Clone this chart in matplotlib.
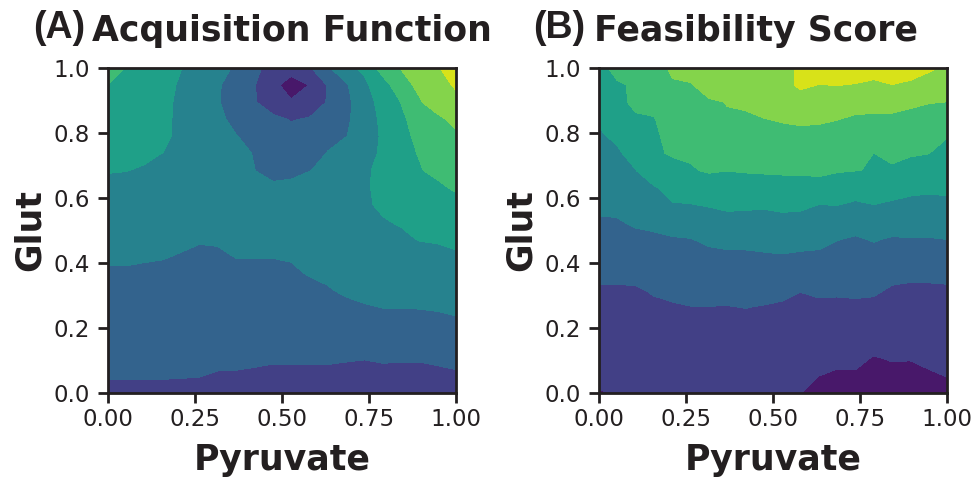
import numpy as np
import matplotlib
matplotlib.use("Agg")
import matplotlib.pyplot as plt

# grid (20 x 20) on [0,1] x [0,1]
pyruvate = np.linspace(0, 1, 20)
glut = np.linspace(0, 1, 20)

# Acquisition function values, one list per Pyruvate column, rows from Glut=0 upward
acq_cols = [
    [1.88, 2.03, 2.18, 2.33, 2.48, 2.63, 2.78, 2.93, 3.09, 3.28, 3.47, 3.65, 3.84, 4.03, 4.22, 4.41, 4.61, 4.81, 4.99, 5.20],
    [1.88, 2.03, 2.18, 2.33, 2.48, 2.63, 2.78, 2.93, 3.09, 3.27, 3.46, 3.64, 3.82, 4.01, 4.17, 4.33, 4.49, 4.65, 4.81, 4.98],
    [1.88, 2.03, 2.18, 2.32, 2.47, 2.61, 2.76, 2.90, 3.06, 3.24, 3.42, 3.59, 3.77, 3.95, 4.09, 4.21, 4.33, 4.45, 4.58, 4.70],
    [1.88, 2.03, 2.17, 2.31, 2.46, 2.60, 2.74, 2.89, 3.03, 3.19, 3.35, 3.51, 3.67, 3.83, 3.99, 4.22, 4.23, 4.24, 4.34, 4.40],
    [1.88, 2.02, 2.16, 2.29, 2.43, 2.56, 2.70, 2.84, 2.97, 3.10, 3.22, 3.34, 3.45, 3.55, 3.64, 3.72, 3.76, 3.80, 3.86, 4.02],
    [1.87, 2.01, 2.13, 2.26, 2.39, 2.52, 2.65, 2.78, 2.91, 3.04, 3.14, 3.24, 3.32, 3.40, 3.46, 3.52, 3.56, 3.60, 3.66, 3.80],
    [1.83, 1.96, 2.10, 2.24, 2.37, 2.51, 2.65, 2.78, 2.92, 3.06, 3.14, 3.20, 3.24, 3.24, 3.20, 3.16, 3.12, 3.06, 3.08, 3.20],
    [1.79, 1.95, 2.10, 2.25, 2.41, 2.56, 2.71, 2.86, 3.02, 3.10, 3.14, 3.16, 3.14, 3.12, 3.11, 3.02, 2.85, 2.60, 2.64, 2.92],
    [1.77, 1.92, 2.08, 2.23, 2.39, 2.55, 2.70, 2.86, 3.02, 3.08, 3.10, 3.08, 3.05, 3.005, 2.98, 2.82, 2.40, 2.075, 2.04, 2.245],
    [1.73, 1.89, 2.05, 2.21, 2.38, 2.54, 2.70, 2.86, 3.02, 3.08, 3.10, 3.10, 3.07, 2.88, 2.70, 2.45, 2.21, 1.50, 1.18, 1.60],
    [1.72, 1.89, 2.06, 2.23, 2.40, 2.57, 2.74, 2.91, 3.05, 3.10, 3.12, 3.10, 3.05, 2.95, 2.60, 2.28, 1.95, 1.07, 0.70, 1.28],
    [1.68, 1.87, 2.07, 2.26, 2.46, 2.65, 2.84, 3.04, 3.12, 3.20, 3.25, 3.27, 3.24, 2.99, 2.72, 2.40, 2.08, 1.40, 1.02, 1.90],
    [1.64, 1.86, 2.07, 2.29, 2.51, 2.73, 2.95, 3.12, 3.20, 3.28, 3.32, 3.30, 3.22, 3.10, 3.035, 2.80, 2.40, 2.07, 2.07, 2.85],
    [1.53, 1.79, 2.05, 2.32, 2.58, 2.84, 3.10, 3.25, 3.38, 3.48, 3.55, 3.58, 3.55, 3.45, 3.30, 2.99, 2.83, 2.71, 2.88, 3.79],
    [1.40, 1.71, 2.02, 2.32, 2.63, 2.94, 3.20, 3.40, 3.55, 3.70, 3.82, 3.93, 3.92, 3.88, 3.50, 3.19, 3.50, 3.70, 3.82, 4.165],
    [1.46, 1.77, 2.08, 2.39, 2.71, 3.01, 3.19, 3.38, 3.56, 3.75, 3.96, 4.08, 4.16, 4.20, 4.22, 4.20, 4.20, 4.25, 4.55, 5.45],
    [1.44, 1.75, 2.07, 2.38, 2.70, 3.02, 3.20, 3.42, 3.63, 3.89, 4.05, 4.20, 4.35, 4.50, 4.70, 4.75, 4.85, 5.02, 5.66, 6.04],
    [1.42, 1.74, 2.06, 2.39, 2.71, 3.03, 3.28, 3.53, 3.78, 4.03, 4.25, 4.50, 4.75, 4.925, 5.05, 5.20, 5.35, 5.90, 6.20, 6.50],
    [1.48, 1.81, 2.13, 2.45, 2.77, 3.07, 3.32, 3.57, 3.82, 4.07, 4.30, 4.55, 4.78, 5.27, 5.45, 5.60, 5.775, 6.525, 6.68, 6.90],
    [1.56, 1.88, 2.21, 2.53, 2.86, 3.14, 3.39, 3.64, 3.90, 4.17, 4.38, 4.60, 5.16, 5.40, 5.65, 5.80, 6.30, 6.79, 7.10, 7.67],
]

# Feasibility score values, one list per Pyruvate column, rows from Glut=0 upward
feas_cols = [
    [0.97, 1.13, 1.29, 1.45, 1.61, 1.77, 1.93, 2.15, 2.41, 2.67, 2.92, 3.14, 3.33, 3.52, 3.71, 3.90, 4.10, 4.30, 4.50, 4.70],
    [1.02, 1.17, 1.32, 1.47, 1.63, 1.78, 1.93, 2.14, 2.41, 2.68, 2.94, 3.18, 3.42, 3.66, 3.89, 4.13, 4.40, 4.75, 4.90, 5.29],
    [1.05, 1.20, 1.34, 1.49, 1.64, 1.78, 1.93, 2.17, 2.48, 2.80, 3.11, 3.40, 3.69, 3.98, 4.28, 4.58, 4.87, 5.20, 5.10, 5.40],
    [1.10, 1.26, 1.41, 1.57, 1.72, 1.88, 2.06, 2.33, 2.60, 2.86, 3.19, 3.56, 3.93, 4.50, 4.94, 4.95, 4.96, 5.20, 5.40, 5.60],
    [1.12, 1.28, 1.44, 1.61, 1.77, 1.93, 2.15, 2.41, 2.67, 2.93, 3.39, 3.96, 4.22, 4.85, 5.04, 5.09, 5.40, 5.65, 5.90, 6.16],
    [1.15, 1.32, 1.48, 1.65, 1.81, 1.98, 2.22, 2.47, 2.72, 2.98, 3.47, 3.97, 4.43, 4.89, 5.15, 5.36, 5.56, 5.76, 5.97, 6.17],
    [1.20, 1.36, 1.51, 1.67, 1.82, 1.98, 2.25, 2.53, 2.81, 3.15, 3.60, 4.06, 4.27, 5.13, 5.35, 5.55, 5.75, 5.95, 6.17, 6.40],
    [1.25, 1.40, 1.54, 1.69, 1.83, 1.97, 2.25, 2.55, 2.85, 3.25, 3.72, 4.17, 4.59, 5.01, 5.27, 5.54, 5.97, 6.01, 6.30, 6.60],
    [1.30, 1.44, 1.58, 1.72, 1.86, 2.01, 2.29, 2.58, 2.86, 3.24, 3.69, 4.15, 4.61, 5.06, 5.31, 5.58, 5.87, 6.13, 6.40, 6.70],
    [1.30, 1.43, 1.56, 1.70, 1.83, 1.96, 2.24, 2.57, 2.91, 3.29, 3.68, 4.11, 4.63, 5.09, 5.38, 5.68, 5.98, 6.25, 6.50, 6.80],
    [1.20, 1.34, 1.49, 1.63, 1.77, 1.91, 2.15, 2.55, 2.95, 3.35, 3.76, 4.19, 4.68, 5.11, 5.44, 5.77, 6.06, 6.35, 6.60, 6.70],
    [1.01, 1.18, 1.34, 1.51, 1.68, 1.84, 2.02, 2.45, 2.88, 3.30, 3.72, 4.16, 4.66, 5.12, 5.47, 5.83, 6.10, 6.40, 7.215, 7.16],
    [0.87, 1.002, 1.22, 1.43, 1.64, 1.85, 2.12, 2.49, 2.86, 3.23, 3.61, 3.99, 4.85, 5.08, 5.42, 5.76, 6.10, 6.50, 6.97, 7.50],
    [0.75, 0.92, 1.12, 1.36, 1.60, 1.84, 2.10, 2.41, 2.72, 3.03, 3.53, 4.02, 4.56, 5.06, 5.37, 5.69, 6.02, 6.50, 7.02, 7.50],
    [0.68, 0.92, 1.15, 1.39, 1.63, 1.87, 2.12, 2.38, 2.65, 2.92, 3.35, 3.86, 4.43, 5.01, 5.30, 5.59, 5.88, 6.30, 6.95, 7.50],
    [0.60, 0.78, 0.95, 1.24, 1.52, 1.81, 2.11, 2.42, 2.73, 3.06, 3.55, 3.99, 4.60, 4.98, 4.99, 5.40, 5.95, 6.10, 6.90, 7.21],
    [0.60, 0.82, 1.04, 1.25, 1.47, 1.69, 1.91, 2.21, 2.57, 2.94, 3.39, 3.87, 4.37, 4.87, 5.20, 5.55, 5.89, 6.20, 6.99, 7.30],
    [0.62, 0.85, 1.02, 1.23, 1.45, 1.66, 1.87, 2.15, 2.55, 2.96, 3.37, 3.78, 4.21, 4.66, 5.08, 5.43, 5.78, 6.13, 6.83, 7.44],
    [0.70, 0.93, 1.11, 1.30, 1.50, 1.69, 1.88, 2.15, 2.55, 2.96, 3.35, 3.74, 4.15, 4.58, 5.01, 5.35, 5.69, 6.03, 6.59, 7.14],
    [0.85, 1.013, 1.19, 1.37, 1.55, 1.72, 1.90, 2.18, 2.60, 3.01, 3.42, 3.82, 4.16, 4.44, 4.73, 5.03, 5.51, 5.99, 6.40, 6.83],
]

contour_levels = [0, 1, 2, 3, 4, 5, 6, 7, 8]
x_ticks = [0.0, 0.25, 0.5, 0.75, 1.0]
x_tick_labels = ["0.00", "0.25", "0.50", "0.75", "1.00"]
y_ticks = [0.0, 0.2, 0.4, 0.6, 0.8, 1.0]
y_tick_labels = ["0.0", "0.2", "0.4", "0.6", "0.8", "1.0"]

panel_letters = ["(A)", "(B)"]
panel_titles = ["Acquisition Function", "Feasibility Score"]

W, H = 975, 479
fig = plt.figure(figsize=(W / 100, H / 100), dpi=100)
text_color = "#231f20"

ax_rects_px = [(108, 68, 456, 393), (599, 68, 947, 393)]
letter_x_px = [33, 533]
title_x_px = [92, 594]

X, Y = np.meshgrid(pyruvate, glut)
for k, cols in enumerate([acq_cols, feas_cols]):
    Z = np.array(cols).T
    x0, y0, x1, y1 = ax_rects_px[k]
    ax = fig.add_axes([x0 / W, 1 - y1 / H, (x1 - x0) / W, (y1 - y0) / H])
    ax.contourf(X, Y, Z, levels=contour_levels, cmap="viridis", vmin=0, vmax=8)
    ax.set_xlim(0, 1)
    ax.set_ylim(0, 1)
    ax.set_xticks(x_ticks)
    ax.set_xticklabels(x_tick_labels)
    ax.set_yticks(y_ticks)
    ax.set_yticklabels(y_tick_labels)
    ax.tick_params(axis="both", labelsize=16.5, length=7, width=2, colors=text_color,
                   labelcolor=text_color)
    ax.tick_params(axis="x", pad=4)
    ax.tick_params(axis="y", pad=6)
    for sp in ax.spines.values():
        sp.set_linewidth(2)
        sp.set_color(text_color)
    ax.set_xlabel("Pyruvate", fontsize=25, fontweight="bold", color=text_color)
    ax.set_ylabel("Glut", fontsize=25, fontweight="bold", color=text_color)
    ax.xaxis.set_label_coords(0.5, -0.155)
    ax.yaxis.set_label_coords(-0.177, 0.5)
    fig.text(letter_x_px[k] / W, 1 - 37.5 / H, panel_letters[k], fontsize=27,
             fontweight="bold", family="Liberation Sans", color=text_color,
             ha="left", va="baseline")
    fig.text(title_x_px[k] / W, 1 - 41 / H, panel_titles[k], fontsize=25,
             fontweight="bold", color=text_color, ha="left", va="baseline")

fig.savefig("out.png", dpi=100)
